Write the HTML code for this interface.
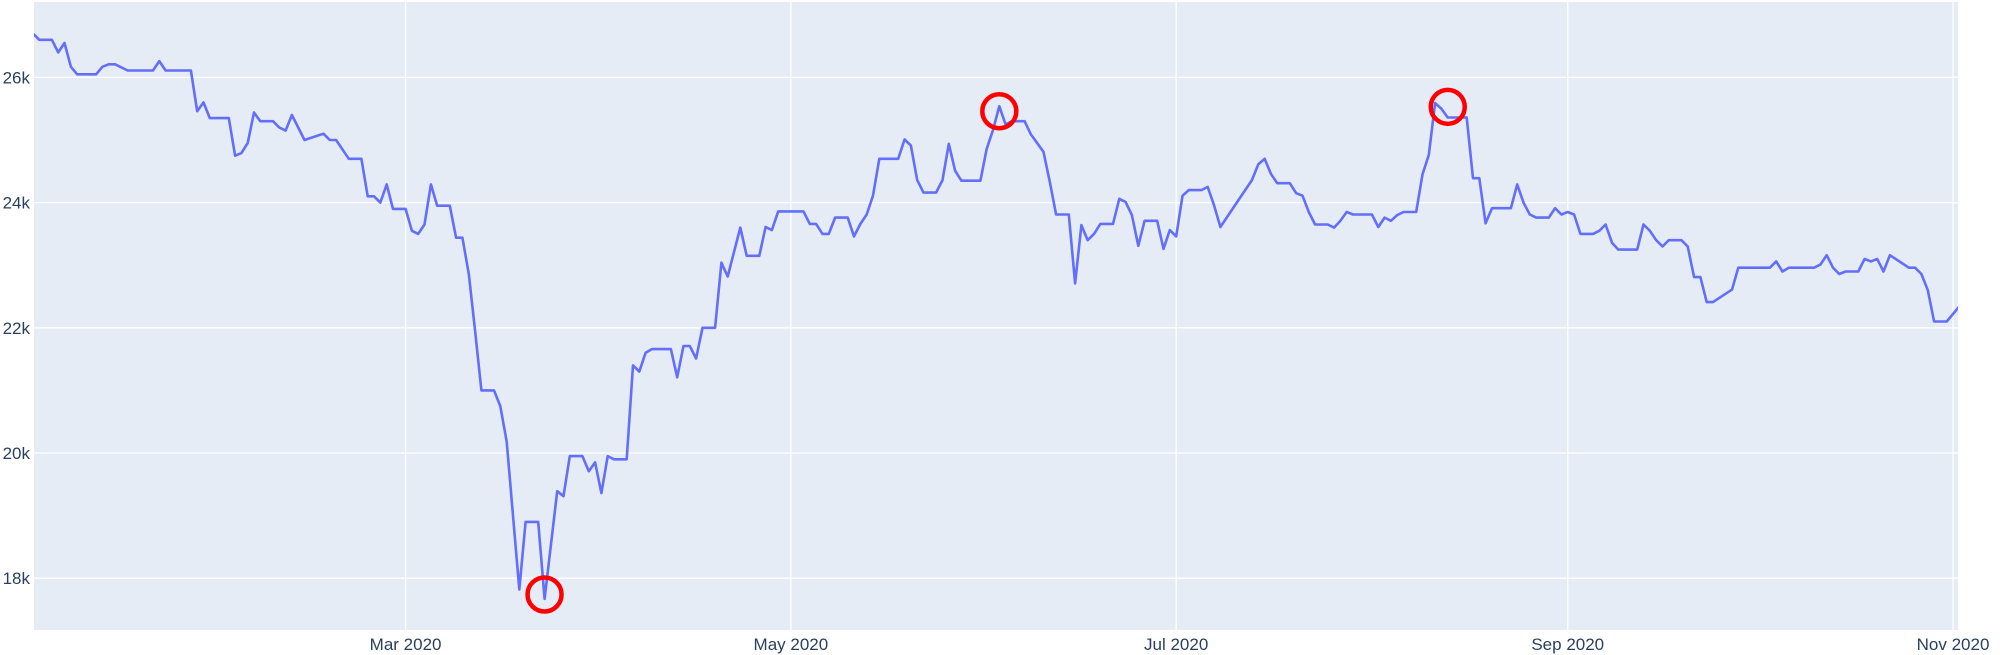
<!DOCTYPE html>
<html><head><meta charset="utf-8"><style>
html,body{margin:0;padding:0;background:#fff;}
svg{display:block;font-family:"Liberation Sans",sans-serif;}
</style></head><body>
<svg id="chart" width="2000" height="655" viewBox="0 0 2000 655" xmlns="http://www.w3.org/2000/svg">
<defs><clipPath id="plotclip"><rect x="34" y="2" width="1924" height="628"/></clipPath></defs>
<rect x="34" y="2" width="1924" height="628" fill="#e5ecf6"/>
<g id="grid"></g>
<g id="ticks"></g>
<g id="series" clip-path="url(#plotclip)"></g>
<g id="marks"></g>
</svg>
<script>
// days offset from 2020-01-02, values in thousands
const days = [
0,1,3,4,5,6,7,10,11,12,13,15,19,20,21,25,26,27,28,31,
32,33,34,35,36,38,39,40,41,43,46,47,48,50,52,53,54,55,56,57,
59,60,61,62,63,64,66,67,68,69,70,71,73,74,75,77,78,80,81,83,
84,85,87,88,89,90,91,92,94,95,96,97,98,101,102,103,104,
105,106,108,109,110,112,113,115,116,117,118,122,123,124,125,126,127,129,130,
131,132,133,134,137,138,139,140,141,143,144,145,146,147,150,151,152,153,154,155,
157,158,160,161,162,164,165,166,167,168,169,171,172,173,174,175,176,178,179,180,
181,182,183,185,186,187,188,193,194,195,196,197,199,200,201,
202,203,205,206,207,208,209,212,213,214,215,216,217,219,220,221,222,223,224,227,
228,229,230,231,234,235,236,237,238,240,241,242,243,244,245,247,248,249,250,251,
254,255,256,257,258,259,261,262,263,264,265,266,269,270,275,276,277,278,282,283,
284,285,286,287,289,290,291,292,293,294,297,298,299,300,301,303,305];
const values = [
26.70,26.60,26.60,26.40,26.55,26.17,26.05,26.05,26.17,26.21,26.21,26.11,26.11,26.26,26.11,26.11,25.46,25.60,25.35,25.35,
24.75,24.79,24.95,25.44,25.30,25.30,25.20,25.15,25.40,25.00,25.10,25.00,25.00,24.70,24.70,24.10,24.10,24.00,24.29,23.90,
23.90,23.55,23.50,23.65,24.29,23.95,23.95,23.44,23.44,22.86,21.95,21.00,21.00,20.75,20.18,17.82,18.90,18.90,17.67,19.39,
19.31,19.95,19.95,19.71,19.85,19.36,19.95,19.90,19.90,21.40,21.30,21.60,21.66,21.66,21.21,21.71,21.71,
21.51,22.00,22.00,23.04,22.82,23.60,23.15,23.15,23.61,23.56,23.86,23.86,23.66,23.66,23.50,23.50,23.76,23.76,23.46,
23.66,23.81,24.11,24.70,24.70,25.01,24.91,24.36,24.16,24.16,24.36,24.94,24.51,24.35,24.35,24.86,25.16,25.54,25.25,25.30,
25.30,25.09,24.81,24.33,23.81,23.81,22.71,23.64,23.40,23.50,23.66,23.66,24.06,24.01,23.80,23.31,23.71,23.71,23.26,23.56,
23.46,24.11,24.20,24.20,24.25,23.96,23.61,24.36,24.61,24.70,24.46,24.31,24.31,24.15,24.11,
23.85,23.65,23.65,23.60,23.71,23.85,23.81,23.81,23.61,23.76,23.71,23.80,23.85,23.85,24.45,24.76,25.59,25.50,25.36,25.36,
24.39,24.39,23.67,23.91,23.91,24.29,24.00,23.81,23.76,23.76,23.91,23.81,23.85,23.81,23.50,23.50,23.55,23.65,23.36,23.25,
23.25,23.65,23.55,23.40,23.30,23.40,23.40,23.30,22.81,22.81,22.41,22.41,22.61,22.96,22.96,23.06,22.90,22.96,22.96,23.01,
23.16,22.96,22.86,22.90,22.90,23.10,23.06,23.10,22.90,23.16,22.96,22.96,22.86,22.60,22.10,22.10,22.34];
const circleDays = [153, 81, 224];
const circleValues = [25.46, 17.74, 25.53];
const yTicks = [18, 20, 22, 24, 26];
const xTickDays = [59, 120, 181, 243, 304];
const xTickLabels = ["Mar 2020","May 2020","Jul 2020","Sep 2020","Nov 2020"];

const NS = "http://www.w3.org/2000/svg";
const X0 = 34, X1 = 1958, Y0 = 2, Y1 = 630;
function xScale(d){ return 405.6 + (d - 59) * 6.316; }
function yScale(v){ return 77.4 + (26 - v) * 62.6; }
function mk(tag, attrs, parent){ const e = document.createElementNS(NS, tag); for (const k in attrs) e.setAttribute(k, attrs[k]); parent.appendChild(e); return e; }

const grid = document.getElementById('grid'), ticks = document.getElementById('ticks');
yTicks.forEach(v => {
  const l = mk('line', {x1:X0, x2:X1, y1:yScale(v), y2:yScale(v), stroke:'#fff', 'stroke-width':1.3}, grid);
  
  
  const t = mk('text', {x:30, y:yScale(v)+6, 'text-anchor':'end', 'font-size':17, fill:'#2a3f5f'}, ticks);
  t.textContent = v + 'k';
  
  
});
xTickDays.forEach((d, i) => {
  const l = mk('line', {x1:xScale(d), x2:xScale(d), y1:Y0, y2:Y1, stroke:'#fff', 'stroke-width':1.3}, grid);
  
  
  const t = mk('text', {x:xScale(d), y:650, 'text-anchor':'middle', 'font-size':17, fill:'#2a3f5f'}, ticks);
  t.textContent = xTickLabels[i];
  
  
});
const n = Math.min(days.length, values.length);
const pts = days.slice(0, n).map((d, i) => xScale(d).toFixed(1) + ',' + yScale(values[i]).toFixed(1)).join(' ');
const line = mk('polyline', {points:pts, fill:'none', stroke:'#636efa', 'stroke-width':2.6, 'stroke-linejoin':'round'}, document.getElementById('series'));


circleDays.forEach((d, i) => {
  const c = mk('circle', {cx:xScale(d), cy:yScale(circleValues[i]), r:17, fill:'none', stroke:'#ff0000', 'stroke-width':4.5}, document.getElementById('marks'));
  
  
});
</script>
</body></html>
